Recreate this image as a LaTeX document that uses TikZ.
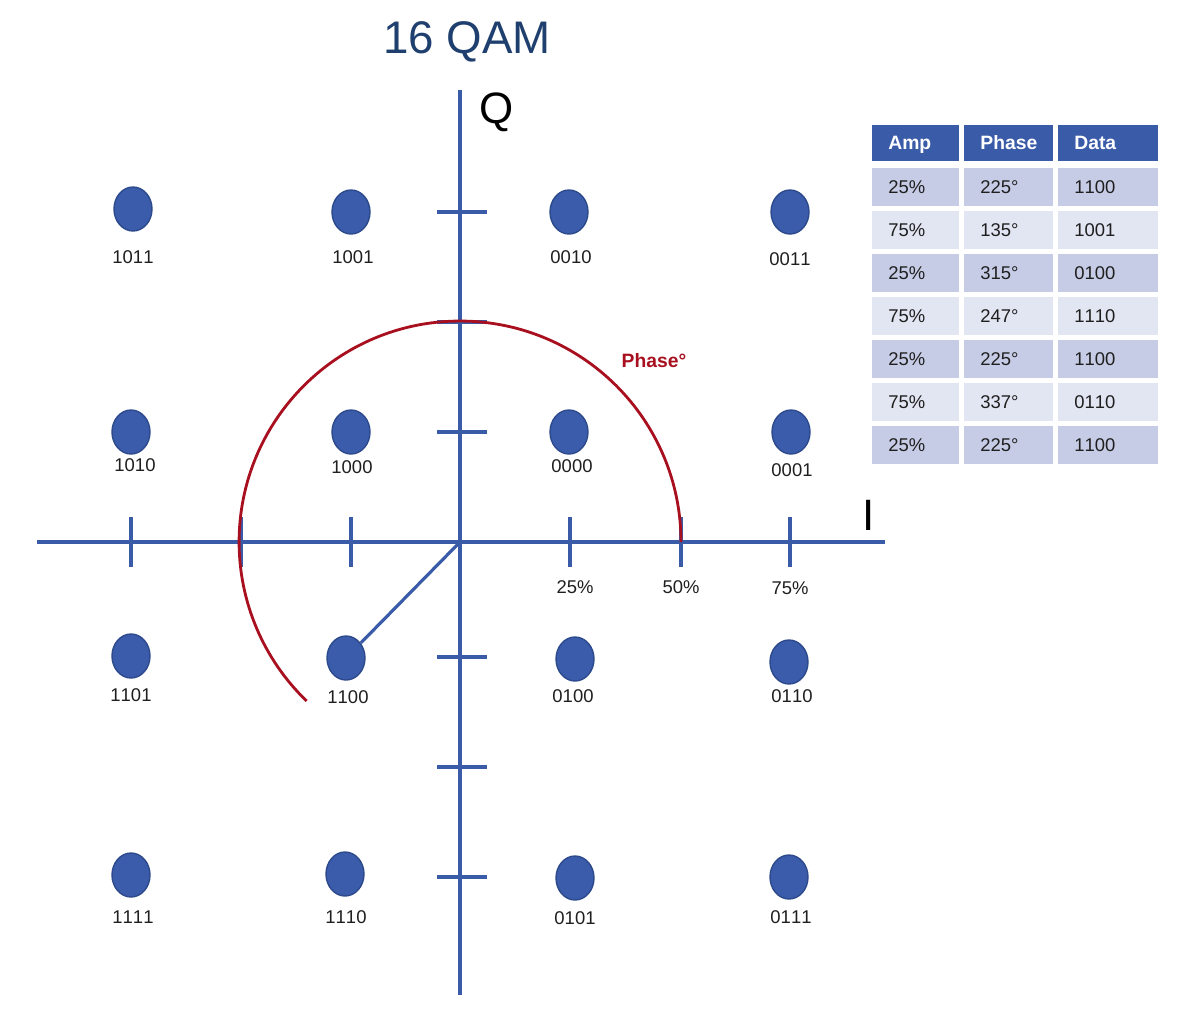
\documentclass[tikz,border=0pt]{standalone}
\usepackage{fontspec}
\setmainfont{Liberation Sans}[Kerning=Off]
\usetikzlibrary{shapes.geometric}

\definecolor{axisblue}{HTML}{3A5BA8}
\definecolor{dotblue}{HTML}{3A5CAB}
\definecolor{dotedge}{HTML}{2C4A8C}
\definecolor{titleblue}{HTML}{1F3F6E}
\definecolor{arcred}{HTML}{A8101F}
\definecolor{rowdark}{HTML}{C6CCE5}
\definecolor{rowlight}{HTML}{E2E5F2}

\tikzset{
  axis/.style={draw=axisblue, line width=2.6pt},
  axtick/.style={draw=axisblue, line width=1.8pt},
  sym/.style={ellipse, draw=dotedge, fill=dotblue, line width=0.8pt,
    minimum width=0.76cm, minimum height=0.88cm, inner sep=0pt},
  bits/.style={font=\fontsize{10.5}{12}\selectfont, text=black!88},
  cell/.style={anchor=west, minimum height=0.76cm, inner xsep=0.32cm,
    inner ysep=0pt, text height=0.72em, text depth=0pt, align=left,
    font=\fontsize{10.5}{12}\selectfont, text=black!88},
  hcell/.style={cell, minimum height=0.72cm, fill=axisblue, text=white,
    font=\fontsize{11}{13}\selectfont\bfseries},
}

\begin{document}
\begin{tikzpicture}[x=0.02cm,y=-0.02cm]
  \useasboundingbox (0,0) rectangle (1200,1014);

  % title
  \node[text=titleblue, font=\fontsize{26}{30}\selectfont] (title) at (467,42) {16 QAM};

  % axes
  \coordinate (O) at (460,542);
  \coordinate (qtop) at (460,90);
  \coordinate (qbot) at (460,995);
  \coordinate (ileft) at (37,542);
  \coordinate (iright) at (885,542);
  \draw[axis] (ileft) -- (iright);
  \draw[axis] (qbot) -- (qtop);
  \node[font=\fontsize{25}{28}\selectfont] (qlab) at (497,112) {Q};
  \node[font=\fontsize{25}{28}\selectfont] (ilab) at (869,515) {I};

  % ticks
  \foreach \x in {131,241,351,570,681,790}
    \draw[axtick] (\x,517) -- (\x,567);
  \foreach \y in {212,322,432,657,767,877}
    \draw[axtick] (437,\y) -- (487,\y);
  \node[bits] (p25) at (575,587) {25\%};
  \node[bits] (p50) at (681,587) {50\%};
  \node[bits] (p75) at (790,588) {75\%};

  % constellation points
  \foreach \n/\x/\y/\lx/\ly in {
      1011/133/209/133/257, 1001/351/212/353/257, 0010/569/212/571/257, 0011/790/212/790/259,
      1010/131/432/135/465, 1000/351/432/352/467, 0000/569/432/572/466, 0001/791/432/792/470,
      1101/131/656/131/695, 1100/346/658/348/697, 0100/575/659/573/696, 0110/789/662/792/696,
      1111/131/875/133/917, 1110/345/874/346/917, 0101/575/878/575/918, 0111/789/877/791/917} {
    \node[sym] (s\n) at (\x,\y) {};
    \node[bits] (l\n) at (\lx,\ly) {\n};
  }

  % vector and phase arc
  \draw[draw=axisblue, line width=1.8pt] (O) -- (s1100);
  \coordinate (arcstart) at (681,542);
  \draw[arcred, line width=1.6pt] (arcstart) arc[start angle=0, end angle=226, radius=4.42cm];
  \node[text=arcred, font=\fontsize{11}{13}\selectfont\bfseries] (phaselab) at (654,361) {Phase°};

  % table
  \node[hcell, text width=1.1cm] (hamp) at (872,143) {Amp};
  \node[hcell, text width=1.14cm] (hph) at (964,143) {Phase};
  \node[hcell, text width=1.36cm] (hdat) at (1058,143) {Data};
  \foreach \a/\p/\d [count=\i] in {25\%/225°/1100, 75\%/135°/1001, 25\%/315°/0100,
      75\%/247°/1110, 25\%/225°/1100, 75\%/337°/0110, 25\%/225°/1100} {
    \pgfmathsetmacro{\ry}{144+43*\i}
    \ifodd\i \def\rowfill{rowdark}\else\def\rowfill{rowlight}\fi
    \node[cell, fill=\rowfill, text width=1.1cm] (amp\i) at (872,\ry) {\a};
    \node[cell, fill=\rowfill, text width=1.14cm] (ph\i) at (964,\ry) {\p};
    \node[cell, fill=\rowfill, text width=1.36cm] (dat\i) at (1058,\ry) {\d};
  }
\end{tikzpicture}
\end{document}
